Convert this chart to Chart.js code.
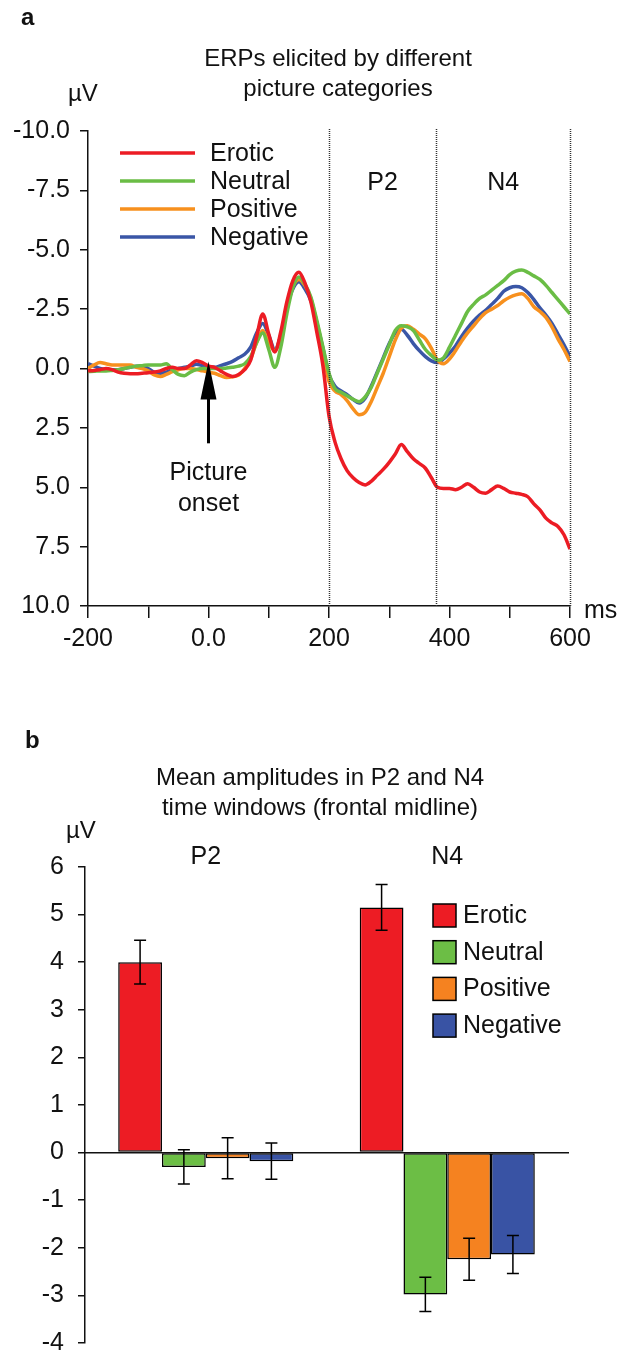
<!DOCTYPE html>
<html>
<head>
<meta charset="utf-8">
<title>ERPs by picture category</title>
<script src="https://cdn.jsdelivr.net/npm/chart.js@4.4.0/dist/chart.umd.min.js"></script>
<style>
  body { margin: 0; background: #fff; }
  #wrap { position: relative; width: 624px; height: 1355px; overflow: hidden;
          font-family: "Liberation Sans", Arial, sans-serif; color: #111; }
  canvas { position: absolute; left: 0; }
  .lbl { position: absolute; font-size: 24px; white-space: nowrap; line-height: 24px; }
  .ttl { position: absolute; font-size: 24px; line-height: 30px; text-align: center; }
</style>
</head>
<body>
<div id="wrap">
  <canvas id="erp" width="624" height="680" style="top:0"></canvas>
  <canvas id="bars" width="624" height="692" style="top:680px"></canvas>

  <div class="lbl" style="left:21px;top:5px;font-weight:bold">a</div>
  <div class="ttl" style="left:38px;width:600px;top:43px">ERPs elicited by different<br>picture categories</div>
  <div class="lbl" style="left:68px;top:81px">µV</div>

  <div class="lbl" style="left:25px;top:728px;font-weight:bold">b</div>
  <div class="ttl" style="left:20px;width:600px;top:762px">Mean amplitudes in P2 and N4<br>time windows (frontal midline)</div>
  <div class="lbl" style="left:66px;top:818px">µV</div>
</div>

<script>
// ---- data ----
var categories = ["Erotic", "Neutral", "Positive", "Negative"];
var lineColors = ["#ec1c24", "#6abd45", "#f7901e", "#3a56a6"];
var barColors  = ["#ed1c24", "#6cbe45", "#f58220", "#3953a4"];

// time axis of the ERP curves (ms)
var times = [-200, -190, -180, -170, -160, -150, -140, -130, -120, -110,
             -100, -90, -80, -70, -60, -50, -40, -30, -20, -10,
             0, 10, 20, 30, 40, 50, 60, 70, 80, 90,
             100, 110, 120, 130, 140, 150, 160, 170, 180, 190,
             200, 210, 220, 230, 240, 250, 260, 270, 280, 290,
             300, 310, 320, 330, 340, 350, 360, 370, 380, 390,
             400, 410, 420, 430, 440, 450, 460, 470, 480, 490,
             500, 510, 520, 530, 540, 550, 560, 570, 580, 590,
             600];

// amplitudes in µV (negative plotted upward)
var erotic = [0.1, 0.08, 0.05, 0.0, 0.05, 0.15, 0.2, 0.22, 0.22, 0.2,
              0.18, 0.15, 0.1, 0.0, -0.05, 0.0, 0.0, -0.15, -0.33, -0.25,
              -0.1, -0.05, 0.1, 0.25, 0.34, 0.25, 0.05, -0.35, -1.35, -2.3,
              -1.45, -0.7, -1.55, -2.8, -3.7, -4.05, -3.6, -2.8, -1.5, -0.1,
              2.0, 3.1, 3.8, 4.3, 4.6, 4.8, 4.9, 4.75, 4.5, 4.25,
              3.95, 3.6, 3.2, 3.5, 3.8, 4.0, 4.2, 4.6, 5.0, 5.05,
              5.05, 5.1, 5.0, 4.85, 5.0, 5.2, 5.25, 5.1, 4.95, 5.05,
              5.2, 5.25, 5.3, 5.4, 5.7, 5.95, 6.3, 6.5, 6.65, 7.0,
              7.6];
var neutral = [0.13, 0.12, 0.1, 0.1, 0.08, 0.05, 0.0, -0.05, -0.1, -0.12,
               -0.15, -0.15, -0.15, -0.2, 0.05, 0.25, 0.3, 0.15, 0.05, 0.0,
               0.0, 0.0, 0.0, -0.02, -0.05, -0.1, -0.2, -0.5, -1.1, -1.5,
               -0.8, -0.05, -0.9, -2.3, -3.4, -3.85, -3.55, -3.0, -2.0, -0.9,
               0.2, 0.85, 1.0, 1.15, 1.3, 1.4, 1.2, 0.8, 0.2, -0.4,
               -1.0, -1.6, -1.8, -1.75, -1.6, -1.2, -0.8, -0.55, -0.35, -0.45,
               -0.9, -1.4, -1.9, -2.4, -2.7, -2.95, -3.1, -3.3, -3.5, -3.7,
               -3.95, -4.1, -4.15, -4.05, -3.9, -3.75, -3.5, -3.2, -2.9, -2.6,
               -2.3];
var positive = [0.0, -0.15, -0.25, -0.2, -0.15, -0.15, -0.15, -0.15, -0.05, 0.0,
                0.1, 0.27, 0.34, 0.25, 0.13, 0.05, 0.0, 0.0, 0.04, 0.1,
                0.15, 0.2, 0.3, 0.38, 0.35, 0.28, 0.0, -0.4, -1.1, -1.6,
                -1.1, -0.75, -1.4, -2.6, -3.45, -3.75, -3.5, -2.95, -1.9, -0.7,
                0.55, 0.95, 1.1, 1.35, 1.7, 1.95, 1.85, 1.4, 0.8, 0.2,
                -0.5, -1.2, -1.7, -1.8, -1.65, -1.45, -1.25, -0.85, -0.35, -0.2,
                -0.4, -0.75, -1.15, -1.5, -1.8, -2.1, -2.35, -2.5, -2.65, -2.85,
                -3.0, -3.1, -3.15, -2.95, -2.6, -2.4, -2.15, -1.75, -1.25, -0.8,
                -0.3];
var negative = [-0.2, -0.1, 0.0, 0.05, 0.05, 0.05, 0.0, -0.05, -0.1, -0.1,
                0.0, 0.15, 0.2, 0.15, 0.05, 0.0, -0.05, -0.1, -0.18, -0.12,
                -0.05, -0.05, -0.12, -0.2, -0.3, -0.45, -0.6, -0.9, -1.5, -1.9,
                -1.4, -0.8, -1.4, -2.6, -3.35, -3.65, -3.35, -2.85, -1.9, -0.85,
                0.25, 0.75, 0.95, 1.1, 1.3, 1.45, 1.25, 0.75, 0.15, -0.45,
                -1.05, -1.5, -1.65, -1.4, -1.05, -0.75, -0.5, -0.32, -0.25, -0.4,
                -0.65, -0.95, -1.35, -1.7, -2.0, -2.25, -2.45, -2.7, -2.95, -3.25,
                -3.4, -3.45, -3.4, -3.2, -2.9, -2.55, -2.25, -1.9, -1.45, -1.0,
                -0.5];
var erpSeries = [erotic, neutral, positive, negative];

// analysis windows (ms) and their names
var windowEdges = [200, 378, 600];
var windowNames = ["P2", "N4"];

// mean amplitudes per window [P2, N4] and their error bars
var eroticMean   = [4.0, 5.15];
var neutralMean  = [-0.3, -2.98];
var positiveMean = [-0.12, -2.24];
var negativeMean = [-0.18, -2.14];
var eroticErr    = [0.46, 0.48];
var neutralErr   = [0.36, 0.36];
var positiveErr  = [0.43, 0.44];
var negativeErr  = [0.38, 0.40];
var barMeans = [eroticMean, neutralMean, positiveMean, negativeMean];
var barErrs  = [eroticErr, neutralErr, positiveErr, negativeErr];

// ---- shared look ----
var FONT = '"Liberation Sans", Arial, sans-serif';
var INK = '#111';
Chart.defaults.font.family = FONT;
Chart.defaults.font.size = 25;
Chart.defaults.color = INK;

// window lines, labels, onset arrow, legend for the ERP chart
var erpDecor = {
  id: 'erpDecor',
  afterDatasetsDraw: function (chart) {
    var ctx = chart.ctx, a = chart.chartArea, x = chart.scales.x, y = chart.scales.y;
    ctx.save();

    ctx.strokeStyle = '#333';
    ctx.lineWidth = 1.5;
    ctx.setLineDash([1, 1]);
    windowEdges.forEach(function (t) {
      var px = Math.round(x.getPixelForValue(t)) + 0.5;
      ctx.beginPath();
      ctx.moveTo(px, a.top - 2);
      ctx.lineTo(px, a.bottom);
      ctx.stroke();
    });
    ctx.setLineDash([]);

    ctx.font = '25px ' + FONT;
    ctx.fillStyle = INK;
    ctx.textAlign = 'center';
    ctx.textBaseline = 'middle';
    windowNames.forEach(function (n, i) {
      var mid = (windowEdges[i] + windowEdges[i + 1]) / 2;
      ctx.fillText(n, x.getPixelForValue(mid), y.getPixelForValue(-7.8));
    });

    // picture onset arrow
    var ax = x.getPixelForValue(0);
    var tip = y.getPixelForValue(-0.3), headBase = y.getPixelForValue(1.3), tail = y.getPixelForValue(3.15);
    ctx.fillStyle = '#000';
    ctx.fillRect(ax - 1.5, headBase - 1, 3, tail - headBase + 1);
    ctx.beginPath();
    ctx.moveTo(ax, tip);
    ctx.lineTo(ax - 8, headBase);
    ctx.lineTo(ax + 8, headBase);
    ctx.closePath();
    ctx.fill();
    ctx.fillStyle = INK;
    ctx.fillText('Picture', ax, y.getPixelForValue(4.4));
    ctx.fillText('onset', ax, y.getPixelForValue(5.7));

    // legend
    ctx.textAlign = 'left';
    chart.data.datasets.forEach(function (ds, i) {
      var ly = 153 + i * 28;
      ctx.strokeStyle = ds.borderColor;
      ctx.lineWidth = 3.5;
      ctx.beginPath();
      ctx.moveTo(120, ly);
      ctx.lineTo(195, ly);
      ctx.stroke();
      ctx.fillStyle = INK;
      ctx.fillText(ds.label, 210, ly + 1);
    });

    ctx.fillText('ms', a.right + 14, a.bottom + 5);
    ctx.restore();
  }
};

new Chart(document.getElementById('erp'), {
  type: 'line',
  data: {
    datasets: categories.map(function (c, i) {
      return {
        label: c,
        data: times.map(function (t, k) { return { x: t, y: erpSeries[i][k] }; }),
        borderColor: lineColors[i],
        borderWidth: 3.5,
        pointRadius: 0,
        cubicInterpolationMode: 'monotone',
        fill: false
      };
    })
  },
  options: {
    responsive: false,
    animation: false,
    devicePixelRatio: 1,
    layout: { padding: { top: 131, right: 54, left: 0, bottom: 0 } },
    plugins: { legend: { display: false }, tooltip: { enabled: false } },
    scales: {
      x: {
        type: 'linear', min: -200, max: 600,
        ticks: {
          stepSize: 100, autoSkip: false, maxRotation: 0, padding: 6,
          callback: function (v) { return v % 200 === 0 ? (v === 0 ? '0.0' : String(v)) : ''; }
        },
        grid: { drawOnChartArea: false, tickLength: 12, color: INK, lineWidth: 1.5 },
        border: { color: INK, width: 1.5 },
        afterFit: function (s) { s.height = 74; }
      },
      y: {
        min: -10, max: 10, reverse: true,
        ticks: { stepSize: 2.5, padding: 10, callback: function (v) { return v.toFixed(1); } },
        grid: { drawOnChartArea: false, tickLength: 8, color: INK, lineWidth: 1.5 },
        border: { color: INK, width: 1.5 },
        afterFit: function (s) { s.width = 88; }
      }
    }
  },
  plugins: [erpDecor]
});

// error bars, window names and legend for the bar chart
var barDecor = {
  id: 'barDecor',
  afterDatasetsDraw: function (chart) {
    var ctx = chart.ctx, y = chart.scales.y, x = chart.scales.x;
    ctx.save();
    ctx.strokeStyle = '#000';
    ctx.lineWidth = 1.5;
    chart.data.datasets.forEach(function (ds, i) {
      chart.getDatasetMeta(i).data.forEach(function (bar, j) {
        var m = ds.data[j], e = barErrs[i][j];
        var hi = y.getPixelForValue(m + e), lo = y.getPixelForValue(m - e);
        ctx.beginPath();
        ctx.moveTo(bar.x, hi); ctx.lineTo(bar.x, lo);
        ctx.moveTo(bar.x - 6, hi); ctx.lineTo(bar.x + 6, hi);
        ctx.moveTo(bar.x - 6, lo); ctx.lineTo(bar.x + 6, lo);
        ctx.stroke();
      });
    });

    ctx.font = '25px ' + FONT;
    ctx.fillStyle = INK;
    ctx.textAlign = 'center';
    ctx.textBaseline = 'middle';
    windowNames.forEach(function (n, j) {
      ctx.fillText(n, x.getPixelForValue(j), 177);
    });

    ctx.textAlign = 'left';
    chart.data.datasets.forEach(function (ds, i) {
      var ly = 235 + i * 36.7;
      ctx.fillStyle = ds.backgroundColor;
      ctx.fillRect(433, ly - 11, 23, 23);
      ctx.strokeStyle = '#000';
      ctx.lineWidth = 1.5;
      ctx.strokeRect(433, ly - 11, 23, 23);
      ctx.fillStyle = INK;
      ctx.fillText(ds.label, 463, ly + 1);
    });
    ctx.restore();
  }
};

new Chart(document.getElementById('bars'), {
  type: 'bar',
  data: {
    labels: windowNames,
    datasets: categories.map(function (c, i) {
      return {
        label: c,
        data: barMeans[i],
        backgroundColor: barColors[i],
        borderColor: '#000',
        borderWidth: 1.5,
        borderSkipped: false,
        barPercentage: 1,
        categoryPercentage: 0.725
      };
    })
  },
  options: {
    responsive: false,
    animation: false,
    devicePixelRatio: 1,
    layout: { padding: { top: 187, right: 56, left: 0, bottom: 12 } },
    plugins: { legend: { display: false }, tooltip: { enabled: false } },
    scales: {
      x: {
        position: { y: 0 },
        ticks: { display: false },
        grid: { display: false },
        border: { color: INK, width: 1.5 },
        afterFit: function (s) { s.height = 0; }
      },
      y: {
        min: -4, max: 6,
        ticks: { stepSize: 1, padding: 14 },
        grid: { drawOnChartArea: false, tickLength: 7, color: INK, lineWidth: 1.5 },
        border: { color: INK, width: 1.5 },
        afterFit: function (s) { s.width = 85; }
      }
    }
  },
  plugins: [barDecor]
});
</script>
</body>
</html>
